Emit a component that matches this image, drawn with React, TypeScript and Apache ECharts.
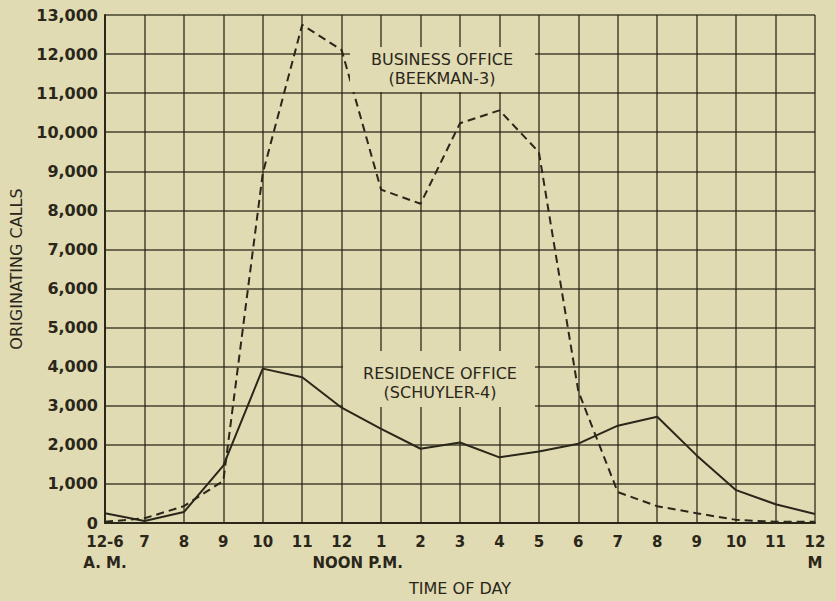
import React, { useEffect, useRef } from "react";
import * as echarts from "echarts";

const hours = ["12-6", "7", "8", "9", "10", "11", "12", "1", "2", "3", "4", "5", "6", "7", "8", "9", "10", "11", "12"];
const subLabels = ["A. M.", "", "", "", "", "", "NOON P.M.", "", "", "", "", "", "", "", "", "", "", "", "M"];
const businessOffice = [30, 120, 430, 1080, 8950, 12750, 12100, 8530, 8170, 10230, 10560, 9490, 3370, 790, 430, 250, 80, 30, 30];
const residenceOffice = [250, 50, 280, 1470, 3950, 3730, 2950, 2410, 1900, 2060, 1680, 1830, 2030, 2490, 2720, 1730, 840, 480, 230];
const yTicks = { min: 0, max: 13000, interval: 1000 };

const BG = "#e0dbb3";
const INK = "#2a2619";
const FONT = "DejaVu Sans";

export default function App() {
  const ref = useRef<HTMLDivElement>(null);
  useEffect(() => {
    if (!ref.current) return;
    const chart = echarts.init(ref.current, null, { renderer: "svg" });
    chart.setOption({
      animation: false,
      backgroundColor: BG,
      textStyle: { fontFamily: FONT, color: INK },
      grid: { left: 103, right: 21, top: 15, bottom: 73, containLabel: false },
      xAxis: {
        type: "category",
        data: hours,
        boundaryGap: false,
        name: "TIME OF DAY",
        nameLocation: "middle",
        nameGap: 57,
        nameTextStyle: { fontFamily: FONT, fontSize: 16, color: INK },
        axisLine: { show: true, lineStyle: { color: INK, width: 2 } },
        axisTick: { show: false },
        splitLine: { show: true, lineStyle: { color: INK, width: 1.5, opacity: 0.85 } },
        axisLabel: {
          interval: 0,
          margin: 8,
          color: INK,
          fontFamily: FONT,
          fontSize: 15,
          fontWeight: "bold",
          lineHeight: 21,
          formatter: (v: string, i: number) => {
            const s = subLabels[i];
            if (!s) return v;
            if (i === 6) return v + "\n{noon|" + s + "}";
            return v + "\n{sub|" + s + "}";
          },
          rich: {
            sub: { fontFamily: FONT, fontSize: 15, fontWeight: "bold", color: INK, lineHeight: 21 },
            noon: { fontFamily: FONT, fontSize: 15, fontWeight: "bold", color: INK, lineHeight: 21, padding: [0, 0, 0, 32] },
          },
        },
      },
      yAxis: {
        type: "value",
        min: yTicks.min,
        max: yTicks.max,
        interval: yTicks.interval,
        name: "ORIGINATING CALLS",
        nameLocation: "middle",
        nameGap: 81,
        nameTextStyle: { fontFamily: FONT, fontSize: 16, color: INK },
        axisLine: { show: true, lineStyle: { color: INK, width: 2 } },
        axisTick: { show: false },
        splitLine: { show: true, lineStyle: { color: INK, width: 1.5, opacity: 0.85 } },
        axisLabel: {
          margin: 7,
          color: INK,
          fontFamily: FONT,
          fontSize: 16,
          lineHeight: 14,
          fontWeight: "bold",
          formatter: (v: number) => v.toLocaleString("en-US"),
        },
      },
      series: [
        {
          name: "BUSINESS OFFICE (BEEKMAN-3)",
          type: "line",
          data: businessOffice,
          symbol: "none",
          lineStyle: { color: INK, width: 2, type: [8, 5] },
          z: 3,
        },
        {
          name: "RESIDENCE OFFICE (SCHUYLER-4)",
          type: "line",
          data: residenceOffice,
          symbol: "none",
          lineStyle: { color: INK, width: 2, type: "solid" },
          z: 3,
        },
      ],
      graphic: [
        {
          type: "rect",
          z: 5,
          shape: { x: 350, y: 47, width: 185, height: 45 },
          style: { fill: BG },
        },
        {
          type: "text",
          z: 6,
          x: 442,
          y: 69,
          style: {
            text: "BUSINESS OFFICE\n(BEEKMAN-3)",
            fontFamily: FONT,
            fontSize: 16,
            lineHeight: 19,
            fill: INK,
            align: "center",
            verticalAlign: "middle",
          },
        },
        {
          type: "rect",
          z: 5,
          shape: { x: 343, y: 351, width: 192, height: 56 },
          style: { fill: BG },
        },
        {
          type: "text",
          z: 6,
          x: 440,
          y: 383,
          style: {
            text: "RESIDENCE OFFICE\n(SCHUYLER-4)",
            fontFamily: FONT,
            fontSize: 16,
            lineHeight: 19,
            fill: INK,
            align: "center",
            verticalAlign: "middle",
          },
        },
      ],
    });
    return () => chart.dispose();
  }, []);
  return (
    <div
      ref={ref}
      style={{ position: "fixed", left: 0, top: 0, width: 836, height: 601 }}
    />
  );
}
